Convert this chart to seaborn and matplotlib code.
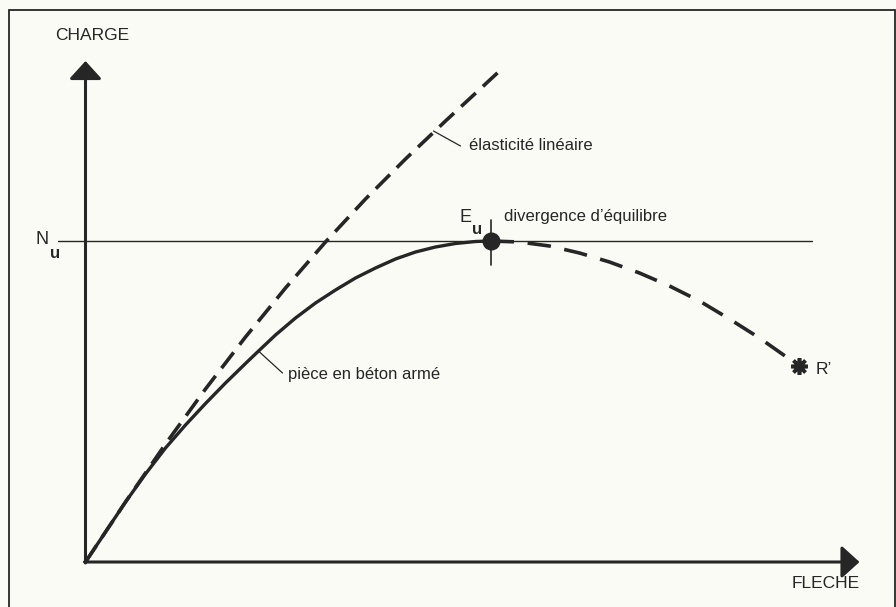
import numpy as np
import pandas as pd
import matplotlib
matplotlib.use("Agg")
import matplotlib.pyplot as plt
import seaborn as sns
from matplotlib.patches import Rectangle

# courbe pièce en béton armé (trait plein) jusqu'au point Eu
beton_x = [0, 2, 4, 6, 8, 10, 12, 14, 16, 17.2, 19, 21, 23, 25, 27, 29, 31, 33, 35, 37, 39, 40.5]
beton_y = [0, 3.0, 6.0, 8.8, 11.4, 13.7, 15.85, 17.9, 19.85, 21.0, 22.7, 24.4, 25.9, 27.2,
           28.4, 29.4, 30.3, 31.0, 31.5, 31.85, 32.05, 32.1]

# branche descendante après divergence d'équilibre (tirets) jusqu'à R'
apres_x = [40.5, 43.4, 46.4, 49.4, 52.4, 55.4, 58.4, 61.4, 64.4, 67.4, 70.1, 71.3]
apres_y = [32.1, 32.0, 31.6, 30.9, 30.0, 28.9, 27.6, 26.1, 24.3, 22.4, 20.5, 19.6]

# élasticité linéaire (tirets)
elast_x = [0, 4, 8, 12, 16, 20, 24, 28, 32, 36, 40, 41.4]
elast_y = [0, 6.0, 11.8, 17.3, 22.5, 27.4, 32.0, 36.3, 40.3, 44.1, 47.8, 49.1]

Nu = 32.1
Eu = (40.5, 32.1)
R = (71.3, 19.6)

df_beton = pd.DataFrame({"fleche": beton_x, "charge": beton_y})
df_apres = pd.DataFrame({"fleche": apres_x, "charge": apres_y})
df_elast = pd.DataFrame({"fleche": elast_x, "charge": elast_y})

sns.set_theme(style="white")
plt.rcParams["font.family"] = ["Liberation Sans", "DejaVu Sans"]

ink = "#262626"
bg = "#fbfbf5"

fig = plt.figure(figsize=(8.96, 6.07), dpi=100, facecolor=bg)
ax = fig.add_axes([0, 0, 1, 1])
ax.set_facecolor(bg)
ax.set_xlim(-8.55, 81.05)
ax.set_ylim(-4.5, 56.2)
ax.axis("off")

# cadre
fig.patches.append(Rectangle((9 / 896, -0.02), 886 / 896, 1 - 10 / 607 + 0.02,
                             transform=fig.transFigure, fill=False,
                             edgecolor=ink, lw=1.3))

# axes avec flèches
arrow = dict(arrowstyle="-|>,head_length=0.55,head_width=0.5", color=ink,
             lw=2.2, mutation_scale=20, shrinkA=0, shrinkB=0)
ax.annotate("", xy=(0, 50.1), xytext=(0, -0.1), arrowprops=arrow)
ax.annotate("", xy=(77.4, 0), xytext=(-0.1, 0), arrowprops=arrow)

# ligne Nu
ax.plot([-2.75, 72.6], [Nu, Nu], color=ink, lw=1.0)

sns.lineplot(data=df_elast, x="fleche", y="charge", sort=False, estimator=None,
             ax=ax, color=ink, lw=2.6, linestyle=(0, (5.5, 2.7)))
sns.lineplot(data=df_beton, x="fleche", y="charge", sort=False, estimator=None,
             ax=ax, color=ink, lw=2.4)
sns.lineplot(data=df_apres, x="fleche", y="charge", sort=False, estimator=None,
             ax=ax, color=ink, lw=2.6, linestyle=(0, (6.5, 3.8)))

# point Eu et petit trait vertical
ax.plot([Eu[0], Eu[0]], [Eu[1] - 2.4, Eu[1] + 2.1], color=ink, lw=1.2)
ax.plot(Eu[0], Eu[1], "o", color=ink, ms=12)
ax.plot(R[0], R[1], marker=(8, 2, 0), color=ink, ms=12, mew=2.6)

# textes
fs = 12
ax.text(-3.0, 52.6, "CHARGE", fontsize=12.5, color=ink, ha="left", va="center")
ax.text(70.6, -2.2, "FLECHE", fontsize=12.5, color=ink, ha="left", va="center")
ax.text(-5.0, 32.2, "N", fontsize=13, color=ink, ha="left", va="center")
ax.text(-3.55, 30.9, "u", fontsize=12, color=ink, ha="left", va="center",
        fontweight="bold")
ax.text(37.4, 34.4, "E", fontsize=13, color=ink, ha="left", va="center")
ax.text(38.65, 33.2, "u", fontsize=12, color=ink, ha="left", va="center",
        fontweight="bold")
ax.text(41.8, 34.5, "divergence d\u2019équilibre", fontsize=fs, color=ink,
        ha="left", va="center")
ax.text(38.3, 41.7, "élasticité linéaire", fontsize=fs, color=ink,
        ha="left", va="center")
ax.plot([34.8, 37.5], [43.1, 41.6], color=ink, lw=0.9)
ax.text(20.2, 18.7, "pièce en béton armé", fontsize=fs, color=ink,
        ha="left", va="center")
ax.plot([17.4, 19.7], [21.0, 18.9], color=ink, lw=0.9)
ax.text(73.0, 19.2, "R\u2019", fontsize=12.5, color=ink, ha="left", va="center")

fig.savefig("out.png", dpi=100, facecolor=bg)
